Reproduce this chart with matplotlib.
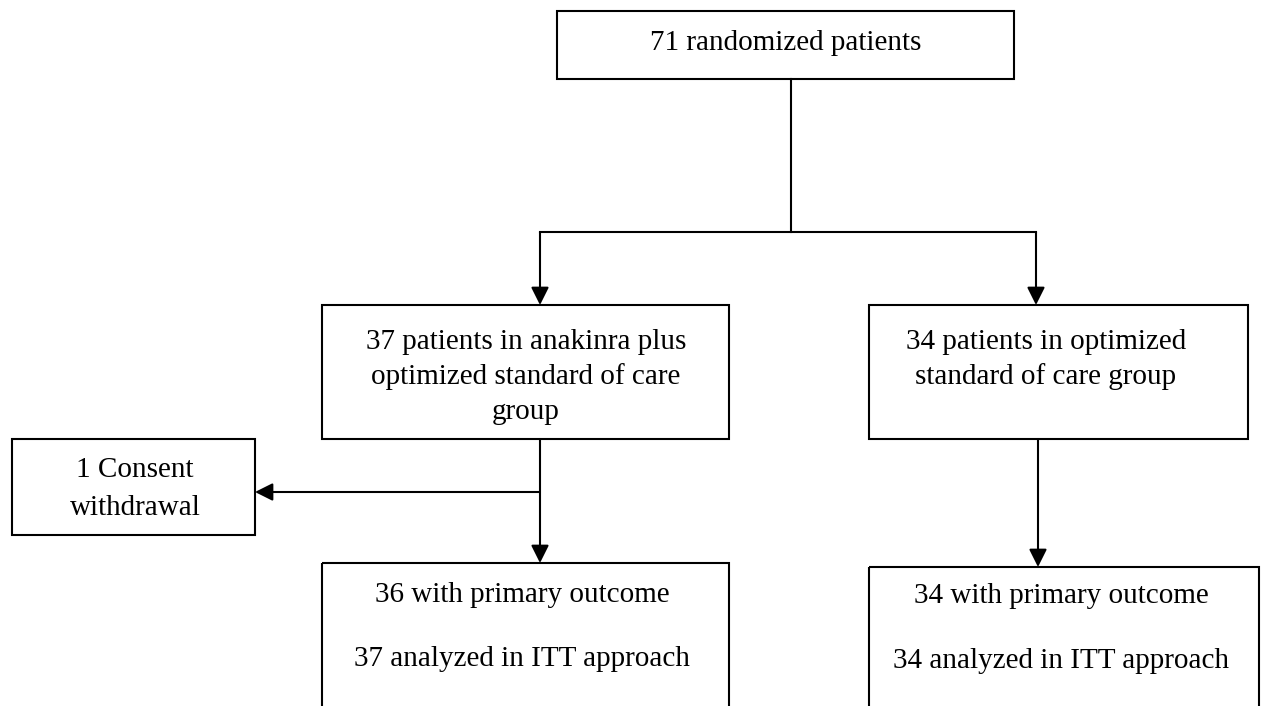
import matplotlib.pyplot as plt
from matplotlib.patches import Rectangle

plt.rcParams['font.family'] = ['Liberation Serif', 'DejaVu Serif']

# box texts (one list of lines per box)
top_text = ["71 randomized patients"]
arm_a_text = ["37 patients in anakinra plus", "optimized standard of care", "group"]
arm_b_text = ["34 patients in optimized", "standard of care group"]
withdraw_text = ["1 Consent", "withdrawal"]
out_a_text = ["36 with primary outcome", "37 analyzed in ITT approach"]
out_b_text = ["34 with primary outcome", "34 analyzed in ITT approach"]

# layout, in pixel units: (x0, y0, x1, y1), text centre x, text baselines
layout = [
    (top_text,      (557, 11, 1014, 79),   786,  [50]),
    (arm_a_text,    (322, 305, 729, 439),  526,  [349, 384, 419]),
    (arm_b_text,    (869, 305, 1248, 439), 1046, [349, 384]),
    (withdraw_text, (12, 439, 255, 535),   135,  [477, 515]),
    (out_a_text,    (322, 563, 729, 720),  522,  [602, 666]),
    (out_b_text,    (869, 567, 1259, 720), 1061, [603, 668]),
]

fig = plt.figure(figsize=(12.65, 7.06), dpi=100)
ax = fig.add_axes([0, 0, 1, 1])
ax.set_xlim(0, 1265)
ax.set_ylim(706, 0)
ax.axis('off')

for lines, (x0, y0, x1, y1), cx, bases in layout:
    ax.add_patch(Rectangle((x0, y0), x1 - x0, y1 - y0, fill=False,
                           edgecolor='black', linewidth=1.5))
    for txt, b in zip(lines, bases):
        ax.text(cx, b, txt, ha='center', va='baseline', fontsize=21, color='black')

lw = 1.5
# connectors without heads
ax.plot([791, 791], [79, 232], color='black', lw=lw)
ax.plot([540, 1036], [232, 232], color='black', lw=lw)


def arrow(x0, y0, x1, y1):
    ax.annotate('', xy=(x1, y1), xytext=(x0, y0),
                arrowprops=dict(arrowstyle='-|>,head_length=0.9,head_width=0.45',
                                mutation_scale=12, color='black', lw=lw,
                                shrinkA=0, shrinkB=0))


arrow(540, 232, 540, 305)
arrow(1036, 232, 1036, 305)
arrow(540, 439, 540, 563)
arrow(540, 492, 255, 492)
arrow(1038, 439, 1038, 567)

fig.savefig('out.png', dpi=100)
